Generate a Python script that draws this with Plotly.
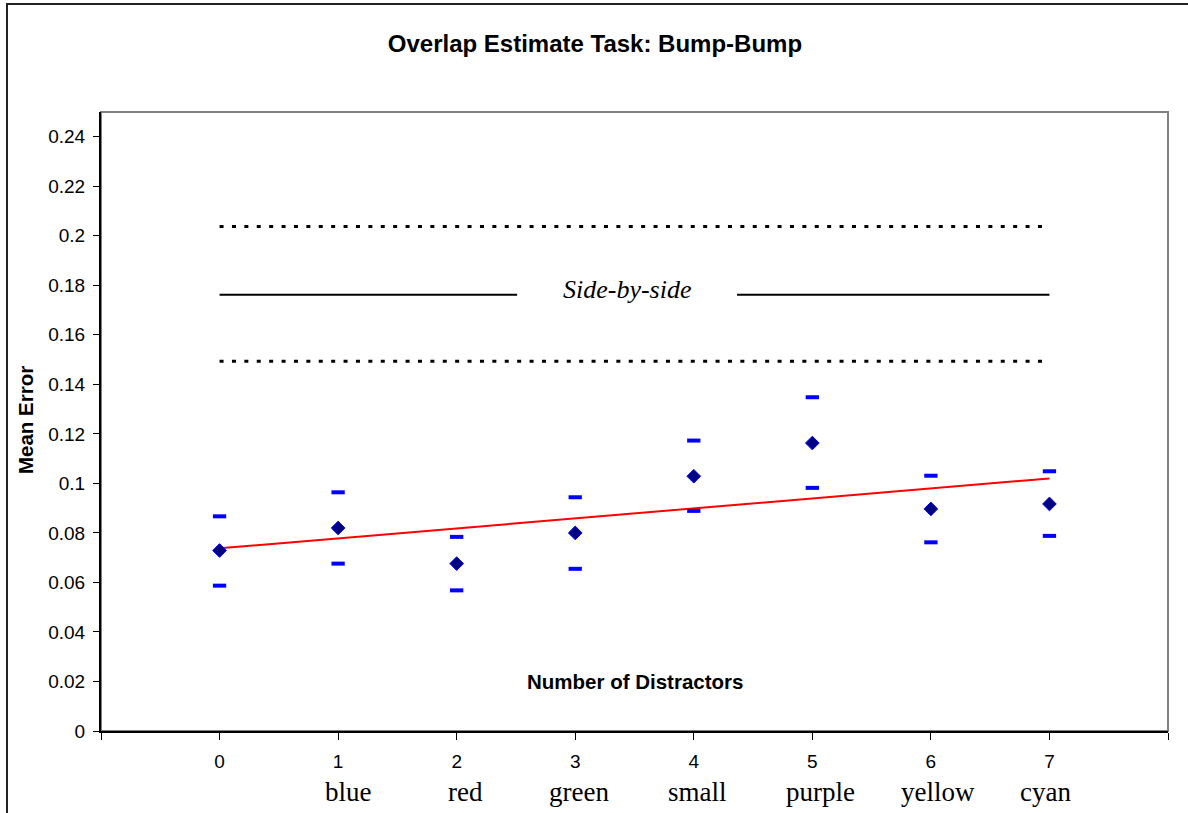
import numpy as np
import plotly.graph_objects as go

# ---- data ----
x_vals = [0, 1, 2, 3, 4, 5, 6, 7]
tick_numbers = ["0", "1", "2", "3", "4", "5", "6", "7"]
category_names = ["", "blue", "red", "green", "small", "purple", "yellow", "cyan"]
mean_error = [0.0729, 0.0820, 0.0676, 0.0800, 0.1029, 0.1163, 0.0897, 0.0917]
upper_ci = [0.0867, 0.0964, 0.0784, 0.0944, 0.1173, 0.1348, 0.1031, 0.1049]
lower_ci = [0.0587, 0.0676, 0.0568, 0.0655, 0.0889, 0.0982, 0.0762, 0.0788]
side_by_side_mean = 0.1762
side_by_side_hi = 0.2038
side_by_side_lo = 0.1493
y_ticks = [0, 0.02, 0.04, 0.06, 0.08, 0.1, 0.12, 0.14, 0.16, 0.18, 0.2, 0.22, 0.24]
y_tick_text = ["0", "0.02", "0.04", "0.06", "0.08", "0.1", "0.12", "0.14", "0.16",
               "0.18", "0.2", "0.22", "0.24"]

# styling: small horizontal nudges of the colour-name labels (pixels)
name_xshift = [0, 10, 9, 4, 4, 8, 7, -4]

SANS = "Arial, 'Liberation Sans', sans-serif"
SERIF = "'Times New Roman', 'Liberation Serif', serif"

# linear trend fitted to the means
slope, intercept = np.polyfit(x_vals, mean_error, 1)
trend_x = [x_vals[0], x_vals[-1]]
trend_y = [intercept + slope * xx for xx in trend_x]

fig = go.Figure()

# side-by-side reference band
for yv in (side_by_side_hi, side_by_side_lo):
    fig.add_trace(go.Scatter(x=[x_vals[0], x_vals[-1]], y=[yv, yv], mode="lines",
                             line=dict(color="black", width=3, dash="4px,8.4px"),
                             hoverinfo="skip", showlegend=False))
fig.add_trace(go.Scatter(x=[x_vals[0], 2.51, None, 4.365, x_vals[-1]],
                         y=[side_by_side_mean, side_by_side_mean, None,
                            side_by_side_mean, side_by_side_mean],
                         mode="lines", line=dict(color="black", width=2),
                         hoverinfo="skip", showlegend=False))

# trend line
fig.add_trace(go.Scatter(x=trend_x, y=trend_y, mode="lines",
                         line=dict(color="#FF0000", width=2), showlegend=False))

# CI dashes
for ys in (upper_ci, lower_ci):
    fig.add_trace(go.Scatter(x=x_vals, y=ys, mode="markers",
                             marker=dict(symbol="line-ew", size=9.5,
                                         line=dict(color="#0000FF", width=4)),
                             showlegend=False))

# means
fig.add_trace(go.Scatter(x=x_vals, y=mean_error, mode="markers",
                         marker=dict(symbol="diamond", size=10.5, color="#000080",
                                     line=dict(color="#0000FF", width=1)),
                         showlegend=False))

annotations = [
    dict(x=3.44, y=0.1783, xref="x", yref="y", text="<i>Side-by-side</i>",
         showarrow=False, xanchor="center", yanchor="middle",
         font=dict(family=SERIF, size=26, color="black")),
    dict(x=3.5, y=0.02, xref="x", yref="y", text="<b>Number of Distractors</b>",
         showarrow=False, xanchor="center", yanchor="middle",
         font=dict(family=SANS, size=20.5, color="black")),
    dict(x=-0.0712, y=0.5024, xref="paper", yref="paper", text="<b>Mean Error</b>",
         textangle=-90, showarrow=False, xanchor="center", yanchor="middle",
         font=dict(family=SANS, size=20.5, color="black")),
]
for xv, name, dx in zip(x_vals, category_names, name_xshift):
    if name:
        annotations.append(dict(x=xv, y=-0.0985, xref="x", yref="paper", text=name,
                                showarrow=False, xanchor="center", yanchor="middle",
                                xshift=dx,
                                font=dict(family=SERIF, size=27, color="black")))

shapes = [
    # outer chart frame
    dict(type="rect", xref="paper", yref="paper", x0=-0.0881, x1=1.05, y0=-0.3, y1=1.1745,
         line=dict(color="#222222", width=2), layer="below"),
    # plot area border
    dict(type="rect", xref="paper", yref="paper", x0=0, x1=1, y0=0, y1=1,
         line=dict(color="#808080", width=2), layer="below"),
]

fig.update_layout(
    width=1188, height=813,
    margin=dict(l=101, r=20, t=112, b=82),
    paper_bgcolor="white", plot_bgcolor="white",
    title=dict(text="<b>Overlap Estimate Task: Bump-Bump</b>", x=0.5008, y=0.9459,
               xanchor="center", yanchor="middle",
               font=dict(family=SANS, size=24, color="black")),
    xaxis=dict(range=[-1, 8], tickvals=[-1] + x_vals + [8],
               ticktext=[""] + tick_numbers + [""],
               showgrid=False, zeroline=False, showline=True, linecolor="black",
               linewidth=2, ticks="outside", ticklen=7, tickcolor="black",
               ticklabelstandoff=5,
               tickfont=dict(family=SANS, size=19, color="black")),
    yaxis=dict(range=[0, 0.25], tickvals=y_ticks, ticktext=y_tick_text,
               showgrid=False, zeroline=False, showline=True, linecolor="black",
               linewidth=2, ticks="outside", ticklen=6, tickcolor="black",
               ticklabelstandoff=4,
               tickfont=dict(family=SANS, size=19, color="black")),
    annotations=annotations,
    shapes=shapes,
    showlegend=False,
)

fig.write_html("out.html")
